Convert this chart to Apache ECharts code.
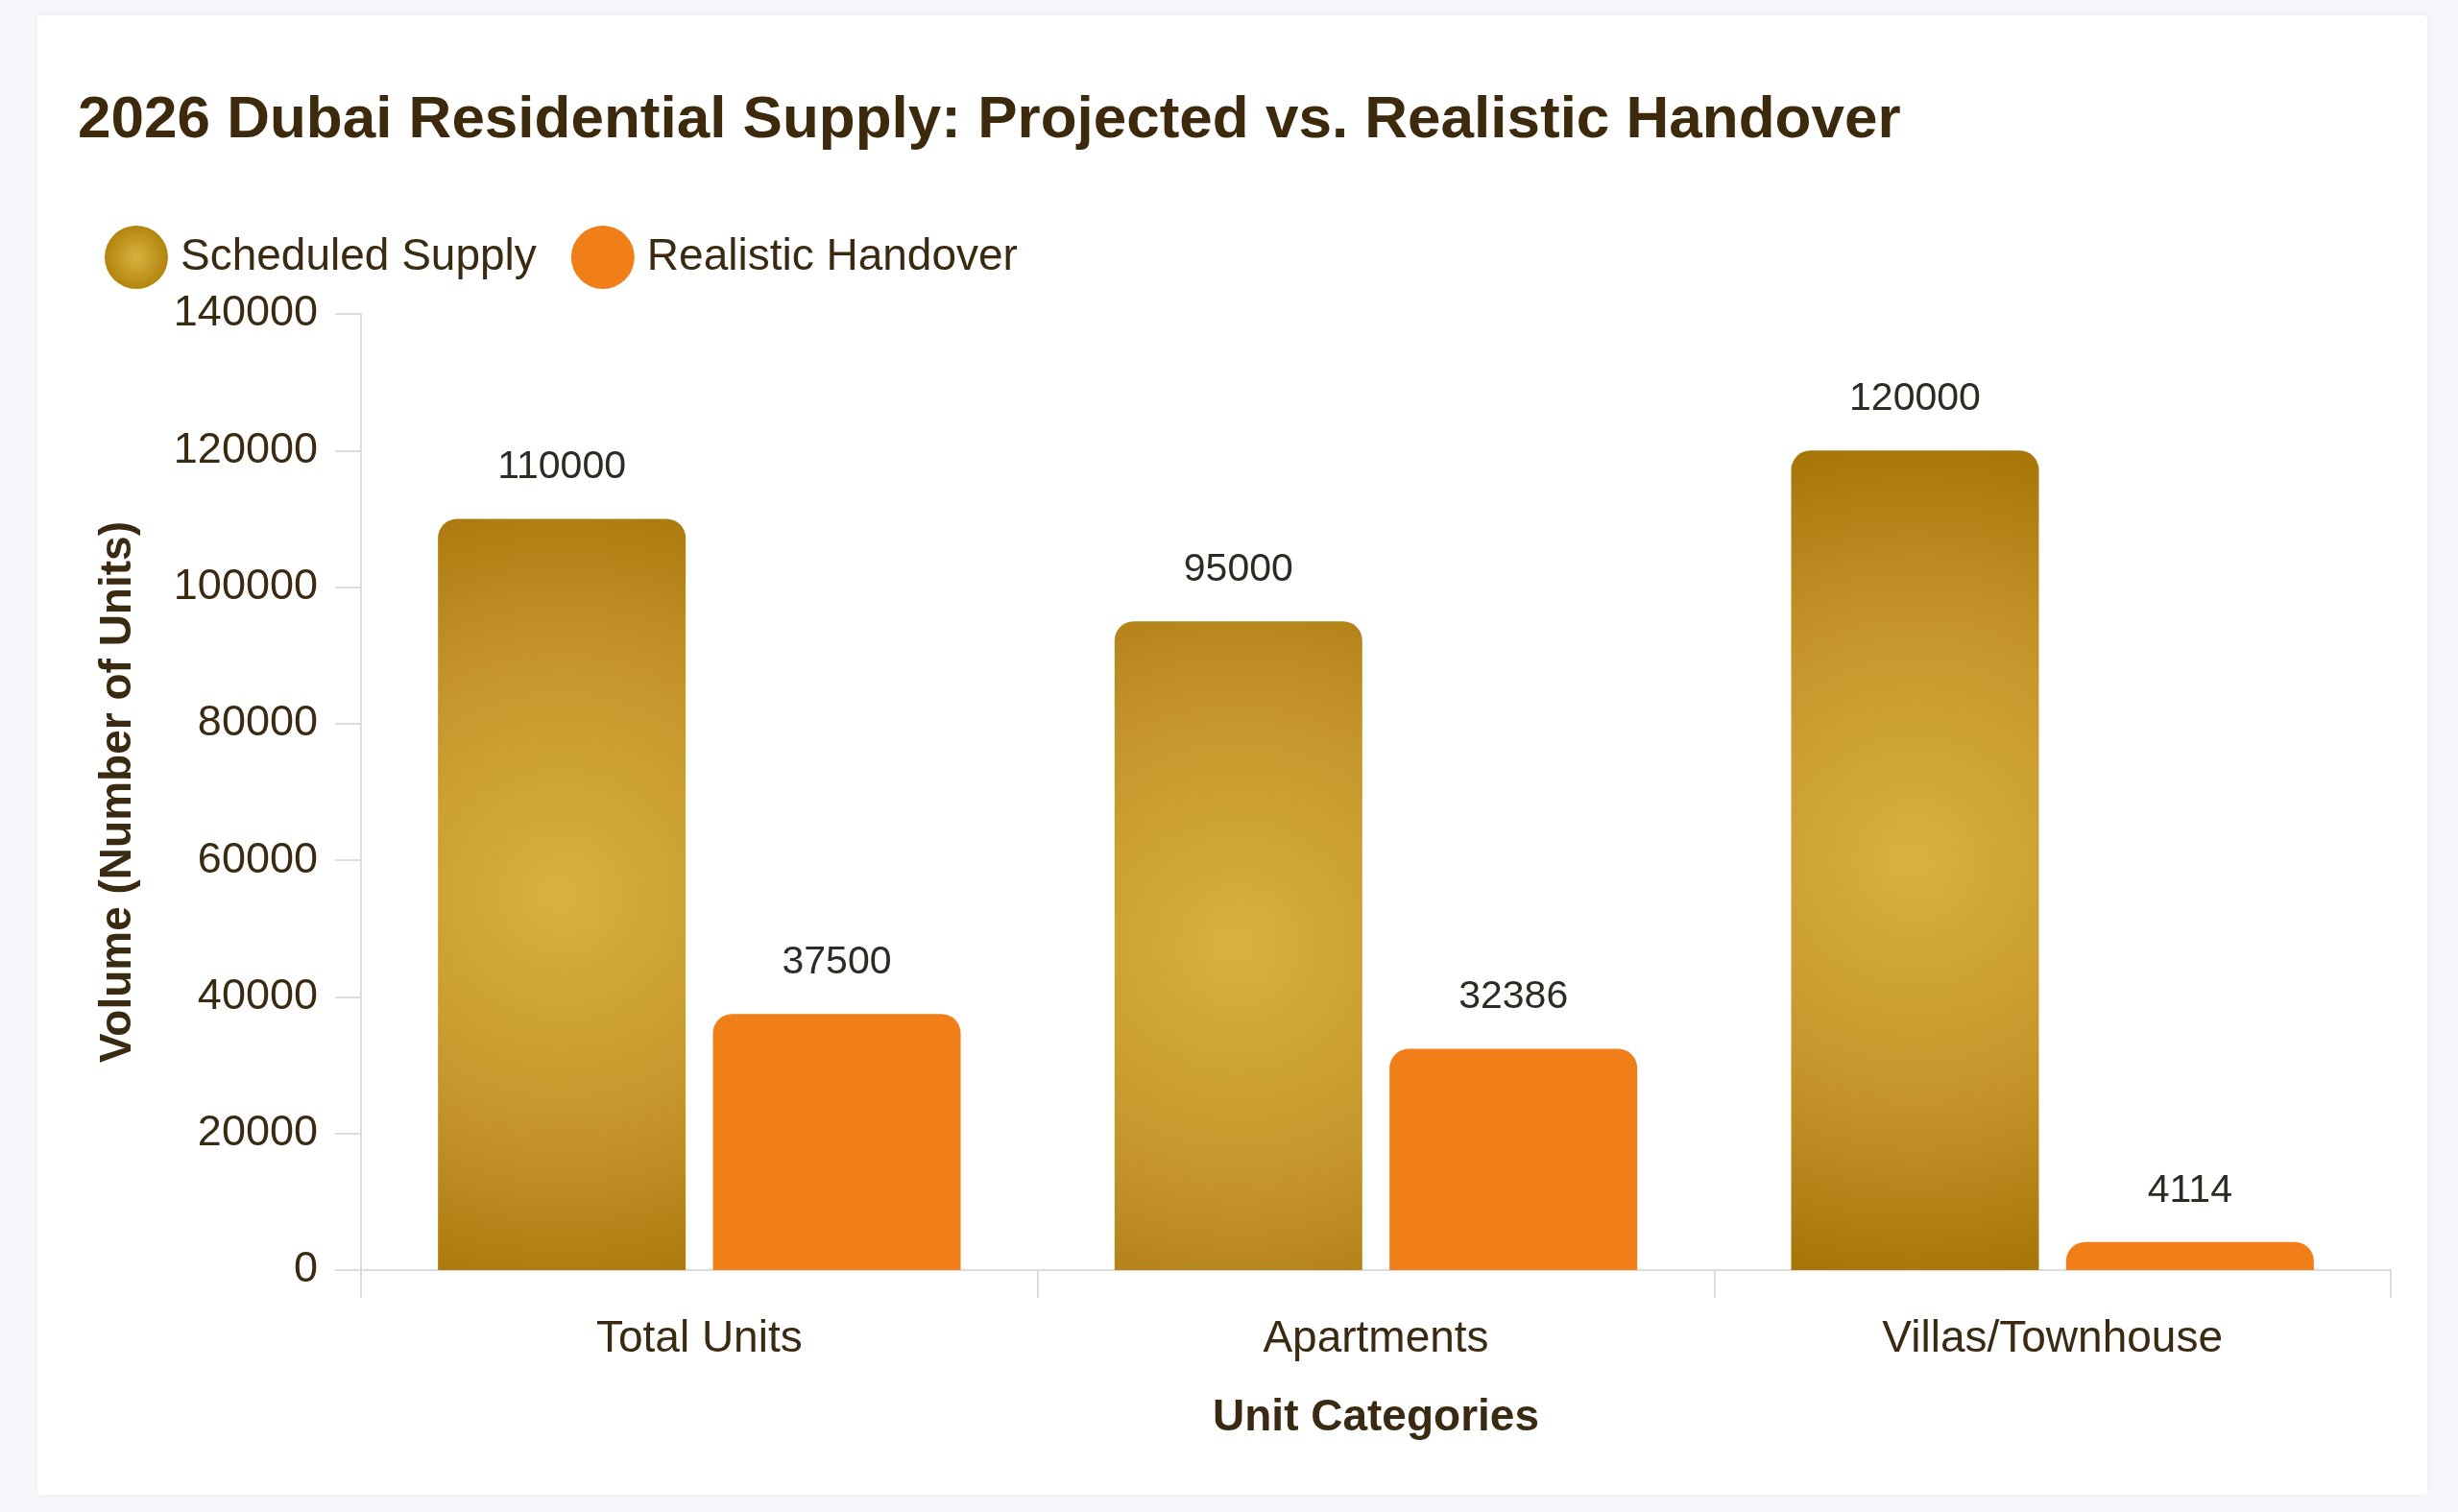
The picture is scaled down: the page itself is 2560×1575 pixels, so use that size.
<!DOCTYPE html>
<html>
<head>
<meta charset="utf-8">
<script src="https://cdn.jsdelivr.net/npm/echarts@6/dist/echarts.min.js"></script>
<style>
html,body{margin:0;padding:0;background:#f4f6f9;}
#chart{width:2560px;height:1575px;}
</style>
</head>
<body>
<div id="chart"></div>
<script>
const categories = ['Total Units', 'Apartments', 'Villas/Townhouse'];
const scheduledSupply = [110000, 95000, 120000];
const realisticHandover = [37500, 32386, 4114];
const yTicks = [0, 20000, 40000, 60000, 80000, 100000, 120000, 140000];

const textColor = '#3b2a12';
const FONT = '"Liberation Sans", Arial, Helvetica, sans-serif';

const chart = echarts.init(document.getElementById('chart'), null, {renderer: 'canvas'});

const goldGradient = {
  type: 'radial', x: 0.5, y: 0.5, r: 1.7,
  colorStops: [
    {offset: 0, color: '#d8b23f'},
    {offset: 0.6, color: '#c3932a'},
    {offset: 1, color: '#a87509'}
  ]
};

const option = {
  backgroundColor: '#f4f6f9',
  animation: false,
  graphic: [{
    type: 'rect', z: -10, silent: true,
    shape: {x: 39, y: 16, width: 2489, height: 1541, r: 4},
    style: {fill: '#ffffff', shadowBlur: 6, shadowColor: 'rgba(0,0,0,0.04)'}
  }],
  title: {
    text: '2026 Dubai Residential Supply: Projected vs. Realistic Handover',
    left: 76, top: 90,
    textStyle: {fontFamily: FONT, fontSize: 62, fontWeight: 'bold', color: '#3d2a0c'}
  },
  legend: {
    left: 104, top: 230,
    icon: 'circle',
    itemWidth: 66, itemHeight: 66,
    itemGap: 36,
    data: [
      {name: 'Scheduled Supply', itemStyle: {color: {type: 'radial', x: 0.5, y: 0.5, r: 0.5, colorStops: [{offset: 0, color: '#d8b23f'}, {offset: 1, color: '#b2850f'}]}}},
      {name: 'Realistic Handover', itemStyle: {color: '#f07f1a'}}
    ],
    textStyle: {fontFamily: FONT, fontSize: 46, color: textColor, padding: [0, 0, 0, 8]}
  },
  grid: {left: 376, top: 327, right: 70, bottom: 252, containLabel: false},
  xAxis: {
    type: 'category',
    data: categories,
    name: 'Unit Categories',
    nameLocation: 'middle',
    nameGap: 131,
    nameTextStyle: {fontFamily: FONT, fontSize: 46, fontWeight: 'bold', color: textColor},
    axisLine: {show: true, lineStyle: {color: '#dcdcdc', width: 2}},
    axisTick: {show: true, length: 29, lineStyle: {color: '#dcdcdc', width: 2}},
    axisLabel: {fontFamily: FONT, fontSize: 46, color: textColor, margin: 49}
  },
  yAxis: {
    type: 'value',
    min: yTicks[0], max: yTicks[yTicks.length - 1], interval: yTicks[1] - yTicks[0],
    name: 'Volume (Number of Units)',
    nameLocation: 'middle',
    nameGap: 230,
    nameTextStyle: {fontFamily: FONT, fontSize: 46, fontWeight: 'bold', color: textColor},
    axisLine: {show: true, lineStyle: {color: '#dcdcdc', width: 2}},
    axisTick: {show: true, length: 27, lineStyle: {color: '#dcdcdc', width: 2}},
    splitLine: {show: false},
    axisLabel: {fontFamily: FONT, fontSize: 45, color: textColor, margin: 45, formatter: (v) => String(v)}
  },
  series: [
    {
      name: 'Scheduled Supply',
      type: 'bar',
      data: scheduledSupply,
      barWidth: 258,
      barGap: '11%',
      itemStyle: {color: goldGradient, borderRadius: [20, 20, 0, 0]},
      label: {show: true, position: 'top', distance: 33, fontFamily: FONT, fontSize: 41, color: '#2e2a24'}
    },
    {
      name: 'Realistic Handover',
      type: 'bar',
      data: realisticHandover,
      barWidth: 258,
      itemStyle: {color: '#f07f1a', borderRadius: [20, 20, 0, 0]},
      label: {show: true, position: 'top', distance: 33, fontFamily: FONT, fontSize: 41, color: '#2e2a24'}
    }
  ]
};
chart.setOption(option);
</script>
</body>
</html>
